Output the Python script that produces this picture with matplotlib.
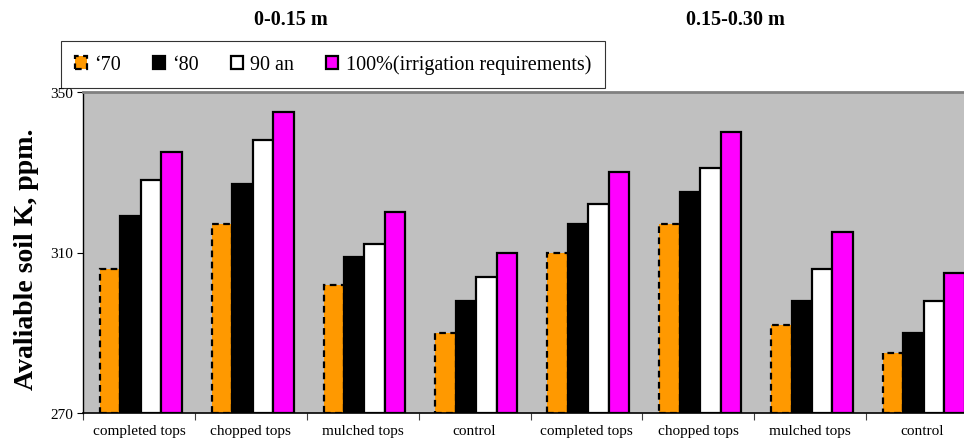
import numpy as np
import matplotlib
matplotlib.use("Agg")
import matplotlib.pyplot as plt

plt.rcParams['font.family'] = ['Liberation Serif', 'DejaVu Serif', 'DejaVu Sans']

categories = ["completed tops", "chopped tops", "mulched tops", "control",
              "completed tops", "chopped tops", "mulched tops", "control"]
series_names = ["\u201870", "\u201880", "90 an", "100%(irrigation requirements)"]
k70 = [306, 317, 302, 290, 310, 317, 292, 285]
k80 = [319, 327, 309, 298, 317, 325, 298, 290]
k90 = [328, 338, 312, 304, 322, 331, 306, 298]
k100 = [335, 345, 320, 310, 330, 340, 315, 305]
depths = ["0-0.15 m", "0.15-0.30 m"]

fig = plt.figure(figsize=(9.64, 4.39), dpi=100)
ax = fig.add_axes([83/964, 25/439, 895/964, 321/439])
ax.set_facecolor("#C0C0C0")

x = np.arange(len(categories))
w = 0.183
shift = 0.016
styles = [
    dict(color="#FF9900", edgecolor="black", linestyle=(0, (3, 2))),
    dict(color="black", edgecolor="black", linestyle="-"),
    dict(color="white", edgecolor="black", linestyle="-"),
    dict(color="#FF00FF", edgecolor="black", linestyle="-"),
]
handles = []
for i, (vals, st) in enumerate(zip([k70, k80, k90, k100], styles)):
    b = ax.bar(x + shift + (i - 1.5) * w, np.array(vals) - 270, w, bottom=270,
               linewidth=1.6, label=series_names[i], **st)
    handles.append(b)

ax.set_xlim(-0.5, 7.5)
ax.set_ylim(270, 350)
ax.set_yticks([270, 310, 350])
ax.tick_params(axis='y', direction='out', length=4, labelsize=11, pad=3)
ax.set_xticks(np.arange(-0.5, 8, 1.0))
ax.set_xticklabels([])
ax.tick_params(axis='x', which='major', direction='out', length=5, color="#404040")
ax.set_xticks(x, minor=True)
ax.set_xticklabels(categories, minor=True, fontsize=11)
ax.tick_params(axis='x', which='minor', length=0, pad=8)

ax.spines['top'].set_color("#808080")
ax.spines['top'].set_linewidth(2)
ax.spines['left'].set_linewidth(1)
ax.spines['bottom'].set_linewidth(1.2)
ax.spines['right'].set_visible(False)

fig.text(27/964, 1 - 259/439, "Avaliable soil K, ppm.", rotation=90, fontsize=20,
         fontweight='bold', ha='center', va='center')
fig.text(291/964, 1 - 20/439, depths[0], fontsize=14.5, fontweight='bold',
         ha='center', va='center')
fig.text(735/964, 1 - 20/439, depths[1], fontsize=14.5, fontweight='bold',
         ha='center', va='center')

leg = fig.legend(handles=handles, loc='center', ncol=4,
                 bbox_to_anchor=(333/964, 1 - 65.5/439), fontsize=14.5,
                 frameon=True, fancybox=False, edgecolor="black",
                 handlelength=0.6, handleheight=0.6, handletextpad=0.35,
                 columnspacing=1.6, borderpad=0.7, borderaxespad=0)
leg.get_frame().set_linewidth(0.8)

fig.savefig("out.png", dpi=100)
